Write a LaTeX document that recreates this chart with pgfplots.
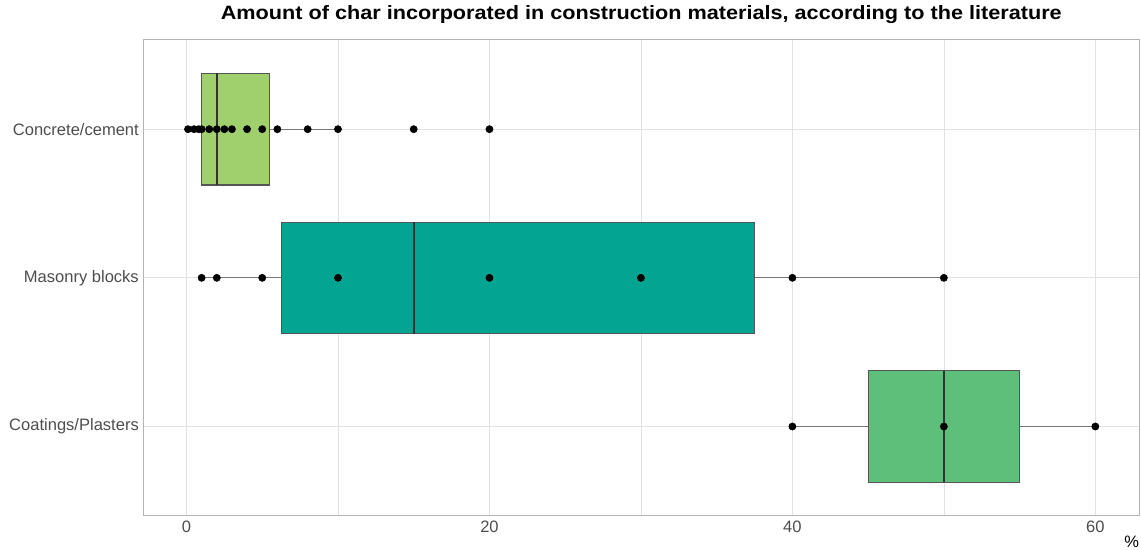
\documentclass[border=0pt]{standalone}
\usepackage{fontspec}
\setmainfont{Liberation Sans}
\usepackage{pgfplots}
\pgfplotsset{compat=1.18}
\usepgfplotslibrary{statistics}
\definecolor{cconc}{RGB}{160,207,110}
\definecolor{cmas}{RGB}{3,165,146}
\definecolor{ccoat}{RGB}{93,191,121}
\definecolor{boxedge}{RGB}{85,85,85}
\definecolor{medc}{RGB}{51,51,51}
\definecolor{whiskc}{RGB}{120,120,120}
\definecolor{gridc}{RGB}{225,225,225}
\definecolor{borderc}{RGB}{179,179,179}
\definecolor{textc}{RGB}{77,77,77}
\begin{document}
\begin{tikzpicture}
\useasboundingbox (-107.5pt,-25pt) rectangle (748.3pt,386.8pt);
\begin{axis}[
 scale only axis, width=747pt, height=356.8pt,
 xmin=-2.85, xmax=62.9, ymin=0.4, ymax=3.6,
 xtick={0,20,40,60}, minor xtick={10,30,50},
 ytick={1,2,3}, yticklabels={Coatings/Plasters,Masonry blocks,Concrete/cement},
 major tick length=0pt, minor tick length=0pt,
 grid=both,
 major grid style={draw=gridc, line width=0.75pt},
 minor grid style={draw=gridc, line width=0.5pt},
 axis line style={draw=borderc, line width=0.75pt},
 ticklabel style={font=\fontsize{12.4}{14}\selectfont, text=textc},
 /pgf/number format/assume math mode=true,
 xticklabel style={anchor=north, inner sep=0pt, yshift=-3.75pt},
 yticklabel style={anchor=east, inner sep=0pt, xshift=-3.2pt},
 title={\scalebox{1.12}[1]{Amount of char incorporated in construction materials, according to the literature}},
 title style={font=\bfseries\fontsize{14.5}{16}\selectfont, anchor=base, at={(axis description cs:0.5,1)}, yshift=9pt, inner sep=0pt},
 xlabel={\%},
 xlabel style={font=\fontsize{12.4}{14}\selectfont, text=black, at={(axis description cs:1,0)}, anchor=base east, yshift=-23.6pt, inner sep=0pt},
 boxplot/draw direction=x,
 boxplot/every box/.style={draw=boxedge, line width=0.9pt},
 boxplot/every median/.style={draw=medc, line width=1.5pt},
 boxplot/every whisker/.style={draw=whiskc, line width=0.75pt},
]
\addplot[fill=cconc, draw=boxedge, boxplot prepared={draw position=3, lower whisker=0, lower quartile=1, median=2, upper quartile=5.5, upper whisker=10, box extend=0.75, whisker extend=0}] coordinates {};
\addplot[fill=cmas, draw=boxedge, boxplot prepared={draw position=2, lower whisker=1, lower quartile=6.25, median=15, upper quartile=37.5, upper whisker=50, box extend=0.75, whisker extend=0}] coordinates {};
\addplot[fill=ccoat, draw=boxedge, boxplot prepared={draw position=1, lower whisker=40, lower quartile=45, median=50, upper quartile=55, upper whisker=60, box extend=0.75, whisker extend=0}] coordinates {};
\addplot[only marks, mark=*, mark size=2.7pt, black] coordinates {
(0.1,3) (0.5,3) (0.8,3) (1,3) (1.5,3) (2,3) (2.5,3) (3,3) (4,3) (5,3) (6,3) (8,3) (10,3) (15,3) (20,3)
(1,2) (2,2) (5,2) (10,2) (20,2) (30,2) (40,2) (50,2)
(40,1) (50,1) (60,1)
};
\end{axis}
\end{tikzpicture}
\end{document}
